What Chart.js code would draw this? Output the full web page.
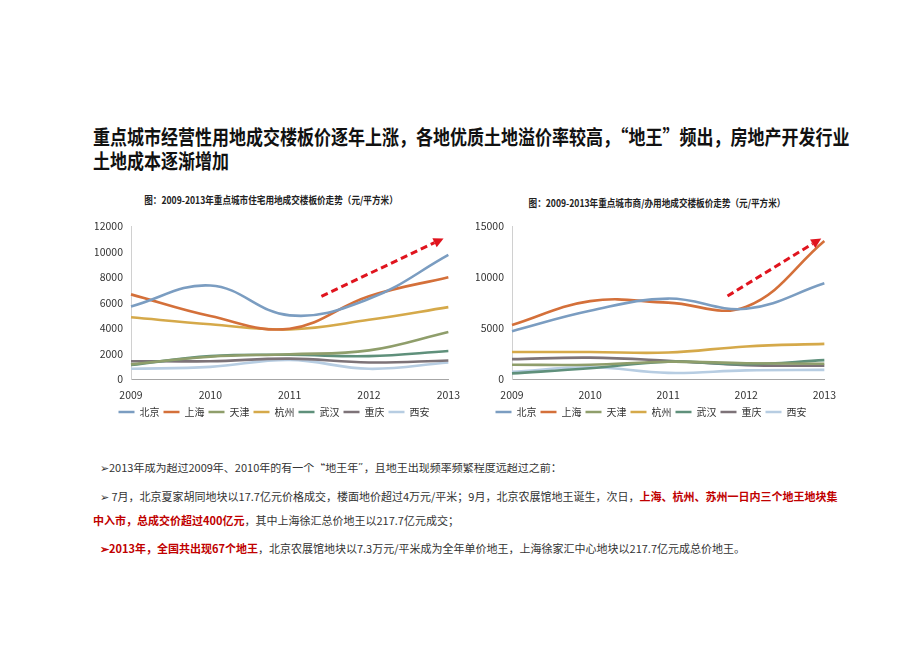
<!DOCTYPE html>
<html><head><meta charset="utf-8">
<script src="https://cdn.jsdelivr.net/npm/chart.js@4.4.1/dist/chart.umd.min.js"></script>
<style>
html,body{margin:0;padding:0;background:#fff;}
body{width:920px;height:651px;position:relative;overflow:hidden;font-family:"Noto Sans CJK SC","Noto Sans",sans-serif;}
.t{position:absolute;left:93px;top:125px;font-size:20px;font-weight:700;color:#111;white-space:nowrap;transform:scaleX(0.85);transform-origin:0 0;line-height:24px;}
.ct{position:absolute;font-size:10px;font-weight:700;color:#222;white-space:nowrap;line-height:12px;transform:translateX(-50%) scaleX(0.86);}
.b{position:absolute;left:100px;font-size:11px;color:#333;white-space:nowrap;line-height:14px;}
.r{color:#C00000;font-weight:700;}
.cv{position:absolute;}
</style></head>
<body>
<div class="t">重点城市经营性用地成交楼板价逐年上涨，各地优质土地溢价率较高，“地王”频出，房地产开发行业<br>土地成本逐渐增加</div>
<div class="ct" style="left:271px;top:194px;">图：2009-2013年重点城市住宅用地成交楼板价走势（元/平方米）</div>
<div class="ct" style="left:657px;top:197px;">图：2009-2013年重点城市商/办用地成交楼板价走势（元/平方米）</div>
<div class="cv" style="left:95px;top:212px;width:375px;height:215px;"><canvas id="c1" width="375" height="215"></canvas></div>
<div class="cv" style="left:476px;top:212px;width:370px;height:215px;"><canvas id="c2" width="370" height="215"></canvas></div>
<div class="b" style="top:460px;clip-path:inset(3px 0 0 0);">➢2013年成为超过2009年、2010年的有一个“地王年”，且地王出现频率频繁程度远超过之前：</div>
<div class="b" style="top:489px;">➢ 7月，北京夏家胡同地块以17.7亿元价格成交，楼面地价超过4万元/平米；9月，北京农展馆地王诞生，次日，<span class="r">上海、杭州、苏州一日内三个地王地块集</span></div>
<div class="b" style="top:513px;left:93px;"><span class="r">中入市，总成交价超过400亿元</span>，其中上海徐汇总价地王以217.7亿元成交；</div>
<div class="b" style="top:541px;"><span class="r">➢2013年，全国共出现67个地王</span>，北京农展馆地块以7.3万元/平米成为全年单价地王，上海徐家汇中心地块以217.7亿元成总价地王。</div>
<script>
const years = ['2009','2010','2011','2012','2013'];
const cities = ['北京','上海','天津','杭州','武汉','重庆','西安'];
// Residential land floor price (yuan/m2)
const resBeijing   = [5700, 7350, 5000, 6300, 9750];
const resShanghai  = [6650, 4950, 3950, 6500, 8000];
const resTianjin   = [1150, 1750, 1950, 2250, 3700];
const resHangzhou  = [4850, 4300, 3900, 4650, 5650];
const resWuhan     = [1100, 1800, 1900, 1800, 2200];
const resChongqing = [1400, 1400, 1600, 1300, 1450];
const resXian      = [800, 950, 1500, 800, 1300];
// Commercial/office land floor price (yuan/m2)
const comBeijing   = [4700, 6700, 7900, 6900, 9400];
const comShanghai  = [5300, 7650, 7500, 7100, 13550];
const comTianjin   = [1400, 1400, 1700, 1550, 1500];
const comHangzhou  = [2650, 2650, 2600, 3200, 3450];
const comWuhan     = [550, 1050, 1700, 1450, 1850];
const comChongqing = [1950, 2100, 1800, 1350, 1300];
const comXian      = [700, 1150, 600, 850, 900];
// y-axis ticks
const resTicks = [0, 2000, 4000, 6000, 8000, 10000, 12000];
const comTicks = [0, 5000, 10000, 15000];
// trend arrows (category index, value)
const resArrow = {from:[2.40, 6500], to:[3.94, 11050]};
const comArrow = {from:[2.76, 8150], to:[3.96, 13800]};

const colors = ['#7B9DC1','#D4703A','#8F9E6B','#D5A94A','#5F907B','#7D7378','#B7CDE2'];
const FONT = '"Noto Sans CJK SC","Noto Sans",sans-serif';

const arrowPlugin = {
  id:'trendArrow',
  afterDatasetsDraw(chart, args, opts){
    const a = opts.arrow; if(!a) return;
    const xs = chart.scales.x, ys = chart.scales.y;
    const x0 = xs.getPixelForValue(a.from[0]), y0 = ys.getPixelForValue(a.from[1]);
    const x1 = xs.getPixelForValue(a.to[0]), y1 = ys.getPixelForValue(a.to[1]);
    const ang = Math.atan2(y1-y0, x1-x0);
    const hl = 10, hw = 5;
    const bx = x1 - Math.cos(ang)*hl, by = y1 - Math.sin(ang)*hl;
    const ctx = chart.ctx;
    ctx.save();
    ctx.strokeStyle = '#E0141E'; ctx.fillStyle = '#E0141E';
    ctx.lineWidth = 3; ctx.setLineDash([7,4]);
    ctx.beginPath(); ctx.moveTo(x0,y0); ctx.lineTo(bx,by); ctx.stroke();
    ctx.setLineDash([]);
    ctx.beginPath();
    ctx.moveTo(x1,y1);
    ctx.lineTo(bx + Math.sin(ang)*hw, by - Math.cos(ang)*hw);
    ctx.lineTo(bx - Math.sin(ang)*hw, by + Math.cos(ang)*hw);
    ctx.closePath(); ctx.fill();
    ctx.restore();
  }
};

function build(id, series, ticks, arrow, padRight){
  const ds = series.map((d,i)=>({label:cities[i], data:d, borderColor:colors[i], backgroundColor:colors[i],
    borderWidth:2.6, pointRadius:0, tension:0.4, fill:false}));
  return new Chart(document.getElementById(id), {
    type:'line',
    data:{labels:years, datasets:ds},
    options:{
      responsive:false, animation:false, devicePixelRatio:1,
      layout:{padding:{left:0, right:padRight, top:14, bottom:0}},
      plugins:{
        tooltip:{enabled:false},
        trendArrow:{arrow:arrow},
        legend:{position:'bottom', labels:{font:{family:FONT,size:10}, color:'#333', boxWidth:16, boxHeight:2.5, padding:4,
          generateLabels(chart){
            const items = Chart.defaults.plugins.legend.labels.generateLabels(chart);
            items.forEach(it=>{it.lineWidth=0; it.fillStyle=it.strokeStyle;});
            return items;
          }}}
      },
      scales:{
        x:{grid:{display:false, drawTicks:false}, border:{display:true, color:'#A6A6A6', width:1},
           ticks:{font:{family:FONT,size:10.5}, color:'#333', padding:10, maxRotation:0},
           afterFit(s){ s.height = 24; }},
        y:{min:ticks[0], max:ticks[ticks.length-1], grid:{display:false, drawTicks:false},
           border:{display:true, color:'#D0D0D0', width:1},
           afterBuildTicks(s){ s.ticks = ticks.map(v=>({value:v})); },
           ticks:{font:{family:FONT,size:10.5}, color:'#333', padding:8, callback:(v)=>String(v)},
           afterFit(s){ s.width = 36; }}
      }
    },
    plugins:[arrowPlugin]
  });
}
build('c1', [resBeijing,resShanghai,resTianjin,resHangzhou,resWuhan,resChongqing,resXian], resTicks, resArrow, 17);
build('c2', [comBeijing,comShanghai,comTianjin,comHangzhou,comWuhan,comChongqing,comXian], comTicks, comArrow, 20);
</script>
</body></html>
